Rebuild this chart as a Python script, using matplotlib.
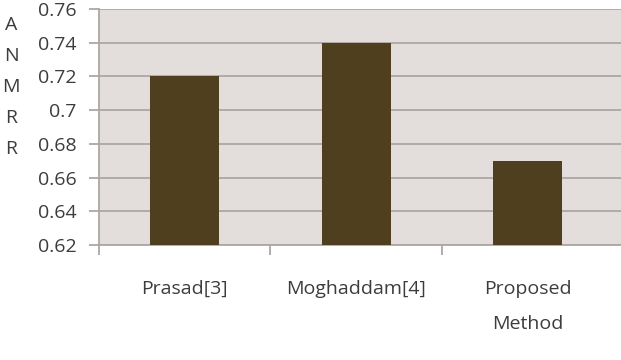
import matplotlib.pyplot as plt
import numpy as np

methods = ['Prasad[3]', 'Moghaddam[4]', 'Proposed\nMethod']
anmrr = [0.72, 0.74, 0.67]
yticks = [0.62, 0.64, 0.66, 0.68, 0.70, 0.72, 0.74, 0.76]
ytick_labels = ['0.62', '0.64', '0.66', '0.68', '0.7', '0.72', '0.74', '0.76']

plt.rcParams['font.family'] = ['Open Sans', 'DejaVu Sans']
txt = '#3c3c3c'
grid = '#aca7a3'

fig = plt.figure(figsize=(6.21, 3.6), dpi=100)
ax = fig.add_axes([99 / 621, 1 - 245 / 360, 522 / 621, 236 / 360])
ax.set_facecolor('#e3dedb')

x = np.arange(len(methods))
ax.bar(x, anmrr, width=0.4, color='#4f3f1e', zorder=3, bottom=0)

ax.set_ylim(0.62, 0.76)
ax.set_xlim(-0.5, 2.544)
ax.set_yticks(yticks)
ax.set_yticklabels(ytick_labels, fontsize=14, color=txt)
ax.yaxis.grid(True, color=grid, linewidth=1.3, zorder=1)
ax.tick_params(axis='y', length=7, color=grid, width=1.3, pad=9)

# category separators as major ticks, names as minor ticks
ax.set_xticks([-0.5, 0.5, 1.5])
ax.set_xticklabels([])
ax.set_xticks(x, minor=True)
ax.set_xticklabels(methods, minor=True, fontsize=14, color=txt, linespacing=2.2, va='top')
ax.tick_params(axis='x', which='major', length=7, color=grid, width=1.3)
ax.tick_params(axis='x', which='minor', length=0, pad=25)

for s in ['top', 'right']:
    ax.spines[s].set_visible(False)
ax.spines['left'].set_color(grid)
ax.spines['left'].set_linewidth(1.3)
ax.spines['bottom'].set_color(grid)
ax.spines['bottom'].set_linewidth(1.3)

fig.text(11 / 621, 1 - 87 / 360, 'A\nN\nM\nR\nR', fontsize=14, color=txt,
         ha='center', va='center', linespacing=1.92)

fig.savefig('out.png', dpi=100, facecolor='white')
